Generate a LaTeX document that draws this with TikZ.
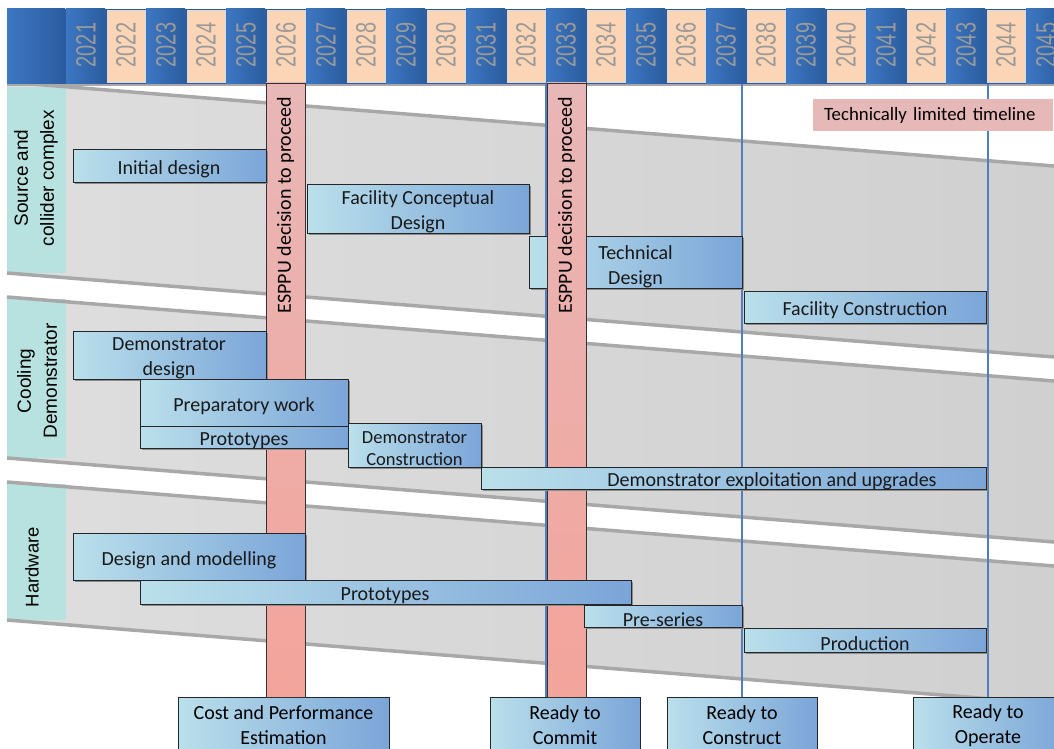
\documentclass[tikz,border=0pt]{standalone}
\usepackage{fontspec}
\setmainfont{Carlito}
\newfontfamily\arialfont{Liberation Sans}
\usepackage{graphicx}
\usetikzlibrary{positioning}
\definecolor{hdrblue}{HTML}{3C77C2}
\definecolor{hdrdark}{HTML}{2C5C9F}
\definecolor{peach}{HTML}{FBD5B5}
\definecolor{yeargray}{HTML}{9A9A9A}
\definecolor{bandlight}{HTML}{DEDEDE}
\definecolor{banddark}{HTML}{D0D0D0}
\definecolor{bandedge}{HTML}{A8A8A8}
\definecolor{sectteal}{HTML}{B8E2E0}
\definecolor{barlight}{HTML}{BAE0EB}
\definecolor{bardark}{HTML}{7BA5D8}
\definecolor{pinktop}{HTML}{E8B7B7}
\definecolor{pinkbot}{HTML}{F3A49B}
\definecolor{gateblue}{HTML}{4F7FC0}
\definecolor{notepink}{HTML}{E6B9B8}
\newcommand\barfont{\fontsize{20}{25}\selectfont}
\newcommand\smallbarfont{\fontsize{18.5}{22}\selectfont}
\tikzset{
  band/.style={left color=bandlight, right color=banddark},
  bandline/.style={bandedge, line width=3.5pt},
  sectlabel/.style={rotate=90, align=center, font=\arialfont\fontsize{19}{26}\selectfont, inner sep=0pt},
  yearlabel/.style={rotate=90, text=yeargray, font=\arialfont\fontsize{20}{20}\selectfont, inner sep=0pt},
  task/.style={draw=black!85, line width=0.8pt, left color=barlight, right color=bardark},
  taskshadow/.style={fill=black!45},
  tasktext/.style={align=center, inner sep=0pt, text=black!90, yshift=-3.5pt},
  esppu/.style={draw=black!80, line width=0.8pt, top color=pinktop, bottom color=pinkbot},
  gate/.style={gateblue, line width=2pt},
  milestone/.style={draw=black!85, line width=0.8pt, left color=barlight, right color=bardark,
    align=center, font=\barfont, anchor=north, minimum height=56pt, inner sep=0pt}
}

\begin{document}
\begin{tikzpicture}[x=1pt,y=-1pt]
  \useasboundingbox (0,0) rectangle (1054,749);
  \fill[white] (0,0) rectangle (1054,749);
  \foreach \t/\b in {82/273,297/458,482/620}
  {
    \fill[band] (7,\t) -- (1054,\t+84) -- (1054,\b+84) -- (7,\b) -- cycle;
  }
  \fill[sectteal] (7,87) rectangle (66,273);
  \fill[sectteal] (7,299) rectangle (66,458);
  \fill[sectteal] (7,484) rectangle (66,620);
  \foreach \t/\b in {82/273,297/458,482/620}
  {
    \draw[bandline] (7,\t) -- (1054,\t+84);
    \draw[bandline] (7,\b) -- (1054,\b+84);
  }
  \node[sectlabel] (srclbl) at (36,178) {Source and\\collider complex};
  \node[sectlabel] (coollbl) at (37,381) {Cooling\\Demonstrator};
  \node[sectlabel, font=\arialfont\fontsize{18.5}{22}\selectfont] (hwlbl) at (32,567) {Hardware};

  \fill[hdrdark] (7,9) rectangle (1054,84);
  \draw[bandedge, line width=2pt] (7,85) -- (1054,85);
  \shade[left color=hdrblue, right color=hdrdark] (7,9) rectangle (65,84);
  \foreach \i in {0,...,24}
  {
    \pgfmathtruncatemacro\yr{2021+\i}
    \ifodd\i
      \fill[peach, draw=black!15] (67+40*\i,10) rectangle (105+40*\i,82);
    \else
      \shade[left color=hdrblue, right color=hdrdark] (66+40*\i,9) rectangle (105+40*\i,84);
    \fi
    \node[yearlabel] (y\yr) at (86+40*\i,45) {\scalebox{1}[1.4]{\yr}};
  }
  \coordinate (hdrbase) at (0,84);
  \coordinate (gateB) at (546,84);

  \node[milestone, minimum width=211pt] (cost) at (283.5,697) {Cost and Performance\\Estimation};
  \node[milestone, minimum width=150pt] (commit) at (565,697) {Ready to\\Commit};
  \node[milestone, minimum width=150pt] (construct) at (742,697) {Ready to\\Construct};
  \node[milestone, minimum width=150pt] (operate) at (988,697) {Ready to\\Operate};
  \draw[gate] (commit.north -| gateB) -- (gateB);
  \draw[gate] (construct.north) -- (construct.north |- hdrbase);
  \draw[gate] (operate.north) -- (operate.north |- hdrbase);

  \fill[taskshadow] (531,238) rectangle (744,290);
  \draw[task] (529,236) rectangle (742,288);
  \node[tasktext, font=\barfont] (techdes) at (635.5,263) {Technical\\Design};

  \foreach \x/\nm in {266/esppuA,547/esppuB}
  {
    \draw[esppu] (\x,83) rectangle (\x+39,697);
    \node[rotate=90, font=\barfont, inner sep=0pt] (\nm) at (\x+19.5,205) {ESPPU decision to proceed};
  }

  \foreach \xa/\ya/\xb/\yb/\tx/\fnt/\nm/\txt in {
    73/149/266/182/169/\barfont/initdes/{Initial design},
    307/184/529/233/418/\barfont/concept/{Facility Conceptual\\Design},
    744/291/986/323/865/\barfont/faccons/{Facility Construction},
    73/331/266/379/169/\barfont/demodes/{Demonstrator\\design},
    140/379/348/426/244/\barfont/prepwork/{Preparatory work},
    140/426/348/448/244/\barfont/cdproto/{Prototypes},
    348/423/481/467/414.5/\smallbarfont/democons/{Demonstrator\\Construction},
    481/467/986/489/772/\barfont/exploit/{Demonstrator exploitation and upgrades},
    73/533/305/580/189/\barfont/desmod/{Design and modelling},
    140/580/631/604/385/\barfont/hwproto/{Prototypes},
    584/605/742/627/663/\barfont/preser/{Pre-series},
    744/628/986/652/865/\barfont/product/{Production}}
  {
    \fill[taskshadow] (\xa+2,\ya+2) rectangle (\xb+2,\yb+2);
    \draw[task] (\xa,\ya) rectangle (\xb,\yb);
    \node[tasktext, font=\fnt] (\nm) at (\tx,{(\ya+\yb)/2}) {\txt};
  }

  \node[fill=notepink, anchor=west, minimum height=32pt, inner xsep=11pt, inner ysep=0pt,
    text width=218pt, align=left, font=\fontsize{18.8}{22}\selectfont] (techlim) at (813,115)
    {Technically limited timeline};
\end{tikzpicture}
\end{document}
